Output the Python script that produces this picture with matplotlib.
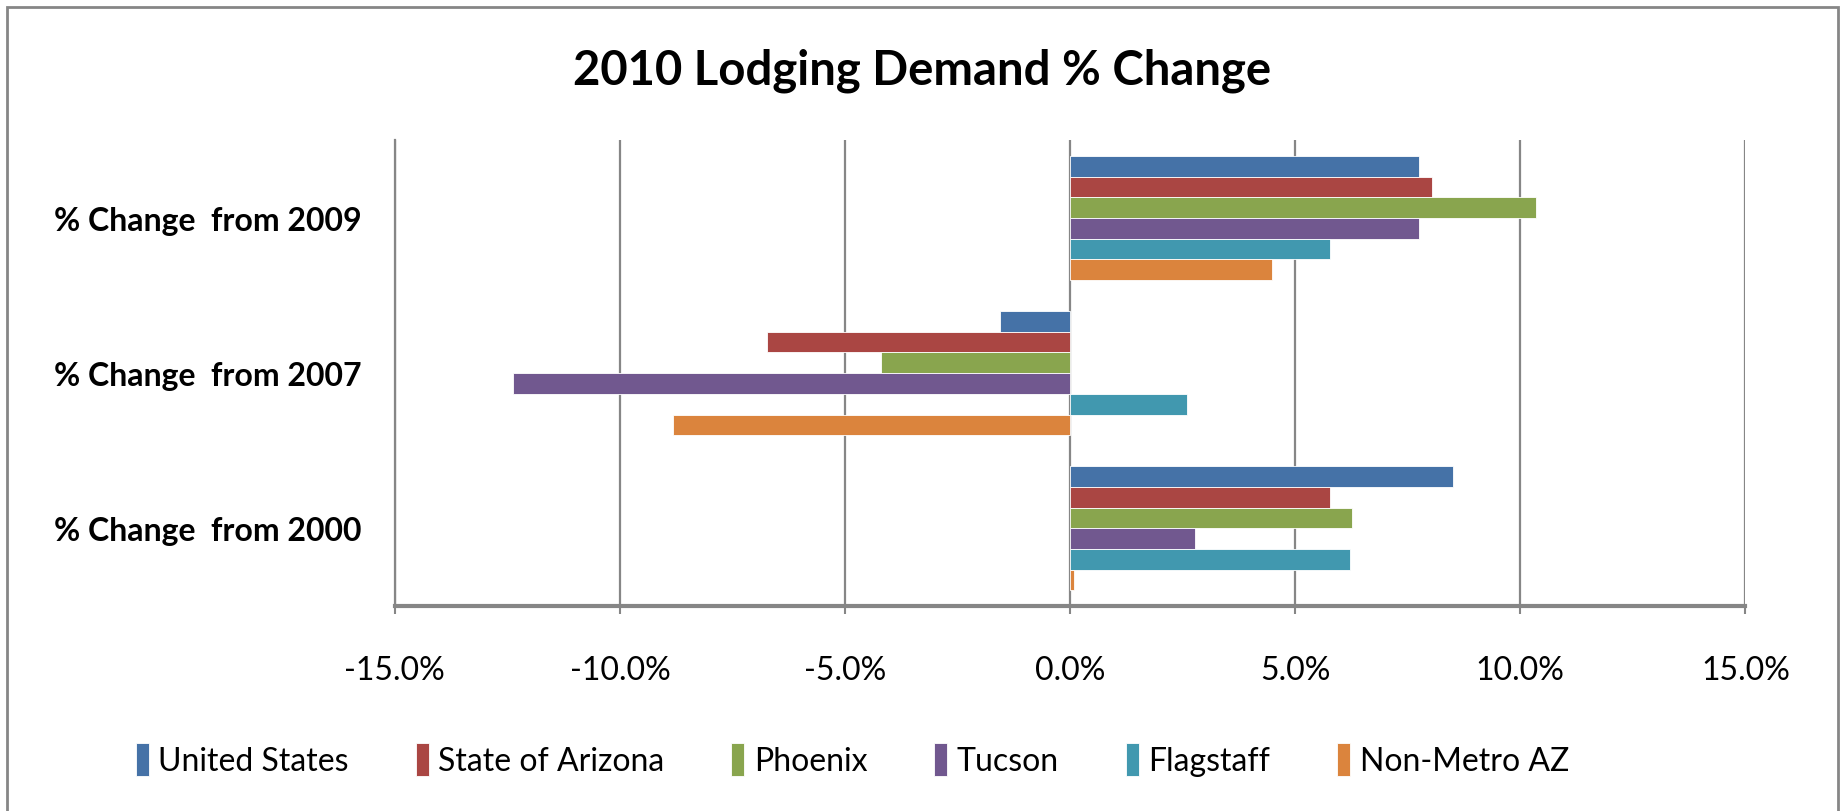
import matplotlib.pyplot as plt
import numpy as np
from matplotlib.ticker import FuncFormatter, MultipleLocator
from matplotlib.patches import Rectangle

# **********************************************
# dados (% de variação da demanda)

categorias = ['% Change  from 2000', '% Change  from 2007', '% Change  from 2009']
series = ['United States', 'State of Arizona', 'Phoenix', 'Tucson', 'Flagstaff', 'Non-Metro AZ']

united_states = [8.51, -1.55, 7.74]
arizona = [5.77, -6.73, 8.04]
phoenix = [6.27, -4.19, 10.36]
tucson = [2.78, -12.38, 7.74]
flagstaff = [6.21, 2.60, 5.77]
non_metro = [0.08, -8.83, 4.48]

cores = ['#4572A7', '#AA4643', '#89A54E', '#71588F', '#4198AF', '#DB843D']

# **********************************************
# figura

plt.rcParams['font.family'] = ['Lato', 'DejaVu Sans']

fig = plt.figure(figsize=(18.45, 8.12), dpi=100)
ax = fig.add_axes([0.214, 0.2525, 0.732, 0.5735])

y = np.arange(len(categorias))
grupo = 0.8
h = grupo / len(series)

valores = [united_states, arizona, phoenix, tucson, flagstaff, non_metro]
for i, (nome, v, c) in enumerate(zip(series, valores, cores)):
    ax.barh(y + grupo / 2 - h * (i + 0.5), v, height=h, color=c, label=nome,
            edgecolor='white', linewidth=0.6, zorder=3)

ax.set_xlim(-15, 15)
ax.set_ylim(-0.5, 2.5)
ax.xaxis.set_major_locator(MultipleLocator(5))
ax.xaxis.set_major_formatter(FuncFormatter(lambda v, p: f'{v:.1f}%'))
ax.grid(axis='x', color='#868686', linewidth=1.6, zorder=0)

ax.set_yticks(y)
ax.set_yticklabels(categorias, fontsize=23, fontweight='bold')
ax.tick_params(axis='y', length=0, pad=24)
ax.tick_params(axis='x', labelsize=23, length=6, width=1.5, color='#868686', pad=29)

for lado in ['top', 'right']:
    ax.spines[lado].set_visible(False)
ax.spines['left'].set_color('#868686')
ax.spines['left'].set_linewidth(1.6)
ax.spines['bottom'].set_color('#868686')
ax.spines['bottom'].set_linewidth(3)

fig.text(0.5, 0.913, '2010 Lodging Demand % Change', ha='center', va='center',
         fontsize=34, fontweight='bold')

fig.legend(loc='center', bbox_to_anchor=(0.462, 0.063), ncol=6, frameon=False,
           fontsize=23, handlelength=0.4, handleheight=1.2, handletextpad=0.3,
           columnspacing=2.1)

# moldura do gráfico
fig.patches.append(Rectangle((0.004, -0.01), 0.992, 1.0, transform=fig.transFigure,
                             fill=False, edgecolor='#868686', linewidth=2))

fig.savefig('out.png', dpi=100)
